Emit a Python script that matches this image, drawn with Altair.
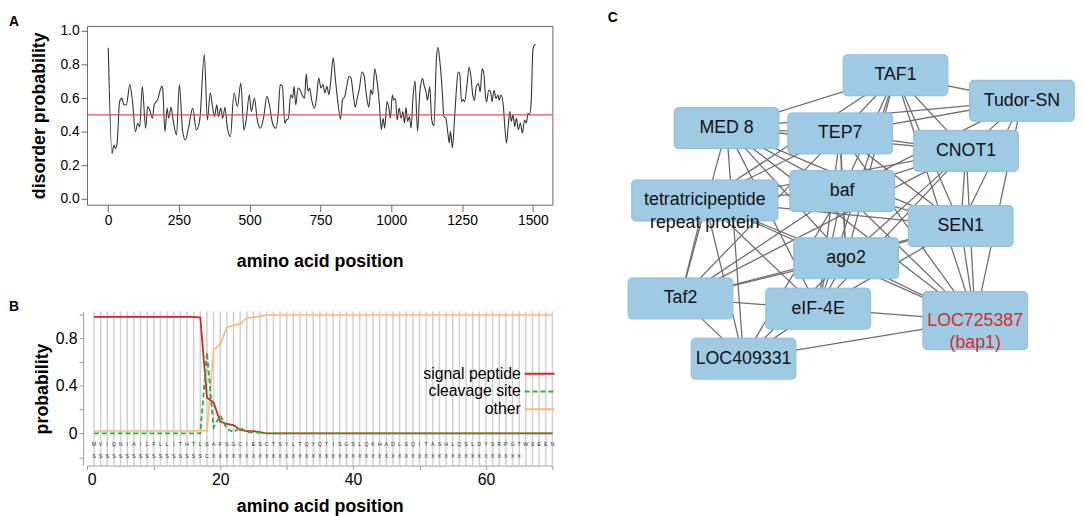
import altair as alt
import pandas as pd

FONT = "Liberation Sans"

# ---------------- Panel A data: disorder probability ----------------
disorder_pos = [1, 14, 21, 26, 32, 41, 49, 56, 65, 77, 87, 97, 105, 112, 121, 133, 140, 147, 157, 163,
                175, 190, 193, 201, 209, 214, 223, 230, 242, 252, 263, 273, 285, 299, 312, 324, 340, 351,
                361, 370, 376, 384, 390, 398, 405, 413, 421, 432, 445, 457, 469, 480, 488, 499, 506, 517,
                527, 538, 550, 561, 571, 581, 593, 601, 608, 616, 624, 630, 637, 645, 652, 657, 663, 671,
                678, 685, 694, 700, 706, 712, 719, 729, 736, 744, 752, 759, 766, 773, 780, 787, 795, 803,
                812, 821, 828, 836, 843, 851, 858, 866, 873, 880, 887, 897, 904, 913, 921, 928, 934, 942,
                951, 958, 965, 971, 977, 985, 991, 997, 1004, 1009, 1015, 1021, 1028, 1035, 1041, 1047,
                1052, 1058, 1064, 1070, 1077, 1084, 1093, 1101, 1111, 1116, 1123, 1128, 1136, 1143, 1151,
                1159, 1165, 1172, 1180, 1186, 1193, 1200, 1205, 1209, 1216, 1223, 1230, 1236, 1242, 1248,
                1254, 1259, 1268, 1275, 1281, 1288, 1294, 1300, 1308, 1314, 1321, 1327, 1333, 1337, 1344,
                1351, 1356, 1363, 1370, 1377, 1381, 1388, 1395, 1401, 1407, 1413, 1419, 1424, 1430, 1436,
                1442, 1449, 1456, 1463, 1471, 1477, 1483, 1488, 1494, 1500, 1504, 1510]
disorder_val = [0.90, 0.27, 0.32, 0.30, 0.33, 0.58, 0.60, 0.56, 0.56, 0.68, 0.57, 0.40, 0.45, 0.43, 0.67,
                0.42, 0.55, 0.53, 0.48, 0.56, 0.59, 0.67, 0.66, 0.40, 0.54, 0.48, 0.545, 0.47, 0.38, 0.68,
                0.41, 0.35, 0.43, 0.54, 0.41, 0.47, 0.86, 0.47, 0.63, 0.54, 0.49, 0.56, 0.49, 0.54, 0.48,
                0.545, 0.43, 0.37, 0.63, 0.55, 0.69, 0.41, 0.47, 0.62, 0.52, 0.60, 0.47, 0.42, 0.49, 0.61,
                0.55, 0.45, 0.42, 0.51, 0.68, 0.67, 0.45, 0.47, 0.48, 0.62, 0.60, 0.67, 0.56, 0.66, 0.65,
                0.62, 0.60, 0.745, 0.64, 0.66, 0.59, 0.54, 0.60, 0.72, 0.66, 0.68, 0.63, 0.67, 0.62, 0.71,
                0.84, 0.71, 0.57, 0.475, 0.59, 0.61, 0.67, 0.73, 0.72, 0.62, 0.545, 0.60, 0.65, 0.755,
                0.735, 0.61, 0.545, 0.65, 0.62, 0.774, 0.686, 0.569, 0.412, 0.48, 0.422, 0.578, 0.549,
                0.48, 0.618, 0.588, 0.598, 0.47, 0.54, 0.48, 0.52, 0.451, 0.545, 0.461, 0.49, 0.422,
                0.608, 0.702, 0.402, 0.637, 0.716, 0.676, 0.637, 0.588, 0.667, 0.47, 0.435, 0.814, 0.902,
                0.814, 0.647, 0.49, 0.48, 0.392, 0.333, 0.402, 0.304, 0.461, 0.647, 0.755, 0.745, 0.578,
                0.592, 0.578, 0.686, 0.784, 0.735, 0.618, 0.588, 0.667, 0.686, 0.637, 0.774, 0.745, 0.608,
                0.578, 0.647, 0.637, 0.578, 0.647, 0.598, 0.618, 0.588, 0.618, 0.569, 0.431, 0.333, 0.431,
                0.52, 0.461, 0.50, 0.431, 0.48, 0.412, 0.451, 0.392, 0.47, 0.451, 0.51, 0.50, 0.569,
                0.882, 0.912, 0.92]
disorder_threshold = [0.5]
a_x_ticks = [0, 250, 500, 750, 1000, 1250, 1500]
a_y_ticks = [0.0, 0.2, 0.4, 0.6, 0.8, 1.0]

# ---------------- Panel B data: signal peptide prediction ----------------
b_positions = list(range(1, 71))
signal_peptide = [0.98] * 15 + [0.978, 0.975, 0.30, 0.26, 0.10, 0.08, 0.07, 0.03, 0.02, 0.02, 0.01] + [0.0] * 44
cleavage_site = [0.0] * 17 + [0.68, 0.05, 0.15, 0.04, 0.01, 0.05, 0.01, 0.01, 0.005] + [0.0] * 44
other = [0.02] * 16 + [0.025, 0.02, 0.70, 0.75, 0.89, 0.91, 0.92, 0.97, 0.975, 0.985] + [0.995] * 44
series_names = ["signal peptide", "cleavage site", "other"]
sequence = "MVIQNIAILFLLITHTLSAFSGCIESCTSYLTQYQTISGSLQKHADLSQITASHLQSLDYSRPGTWSEEN"
prediction = "SSSSSSSSSSSSSSSSSC" + "X" * 47
track_levels = [-0.09, -0.19]
b_x_ticks = [0, 10, 20, 30, 40, 50, 60, 70]
b_y_ticks = [-0.2, 0.0, 0.2, 0.4, 0.6, 0.8, 1.0]

# ---------------- Panel C data: interaction network ----------------
node_ids = ["TAF1", "Tudor-SN", "MED8", "TEP7", "CNOT1", "TPR", "baf", "SEN1", "ago2",
            "Taf2", "eIF-4E", "LOC725387", "LOC409331"]
node_labels = ["TAF1", "Tudor-SN", "MED 8", "TEP7", "CNOT1", "tetratricipeptide\nrepeat protein",
               "baf", "SEN1", "ago2", "Taf2", "eIF-4E", "LOC725387\n(bap1)", "LOC409331"]
node_x = [291.3, 419.3, 120.3, 235.3, 362.7, 98.3, 237.3, 357.3, 241.3, 73.7, 213.0, 372.0, 137.5]
node_y = [50.0, 75.8, 103.5, 108.8, 126.5, 176.7, 167.2, 202.5, 235.2, 275.8, 286.2, 298.3, 336.8]
highlight = ["LOC725387"]
edges = [
    ("TAF1", "Tudor-SN"), ("TAF1", "MED8"), ("TAF1", "TEP7"), ("TAF1", "CNOT1"), ("TAF1", "baf"),
    ("TAF1", "SEN1"), ("TAF1", "ago2"), ("TAF1", "LOC725387"), ("TAF1", "TPR"), ("TAF1", "eIF-4E"),
    ("Tudor-SN", "MED8"), ("Tudor-SN", "TEP7"), ("Tudor-SN", "CNOT1"), ("Tudor-SN", "SEN1"),
    ("Tudor-SN", "LOC725387"), ("Tudor-SN", "baf"),
    ("MED8", "TEP7"), ("MED8", "CNOT1"), ("MED8", "baf"), ("MED8", "SEN1"), ("MED8", "ago2"),
    ("MED8", "Taf2"), ("MED8", "eIF-4E"), ("MED8", "LOC409331"), ("MED8", "LOC725387"),
    ("TEP7", "CNOT1"), ("TEP7", "baf"), ("TEP7", "TPR"), ("TEP7", "SEN1"), ("TEP7", "ago2"),
    ("TEP7", "eIF-4E"), ("TEP7", "LOC725387"), ("TEP7", "Taf2"),
    ("CNOT1", "baf"), ("CNOT1", "SEN1"), ("CNOT1", "ago2"), ("CNOT1", "LOC725387"), ("CNOT1", "Taf2"),
    ("CNOT1", "eIF-4E"), ("CNOT1", "TPR"),
    ("TPR", "baf"), ("TPR", "SEN1"), ("TPR", "ago2"), ("TPR", "Taf2"), ("TPR", "eIF-4E"),
    ("TPR", "LOC409331"), ("TPR", "LOC725387"),
    ("baf", "SEN1"), ("baf", "ago2"), ("baf", "Taf2"), ("baf", "eIF-4E"), ("baf", "LOC725387"),
    ("baf", "LOC409331"),
    ("SEN1", "ago2"), ("SEN1", "LOC725387"), ("SEN1", "eIF-4E"), ("SEN1", "Taf2"),
    ("ago2", "Taf2"), ("ago2", "eIF-4E"), ("ago2", "LOC725387"), ("ago2", "LOC409331"),
    ("Taf2", "eIF-4E"), ("Taf2", "LOC409331"),
    ("eIF-4E", "LOC725387"), ("eIF-4E", "LOC409331"),
    ("LOC409331", "LOC725387"),
]

# ================= Panel A =================
dfA = pd.DataFrame({"aa": disorder_pos, "disorder": disorder_val})
dfThr = pd.DataFrame({"disorder": disorder_threshold})

scaleAy = alt.Scale(domain=[-0.035, 1.03], nice=False, zero=False)
axisAy = alt.Axis(values=a_y_ticks, format=".1f", title="disorder probability", domain=False,
                  grid=False, tickSize=6, tickColor="#666", labelFontSize=14, labelPadding=2,
                  labelOverlap=False, labelColor="black", titleFontSize=18,
                  titleFontWeight="bold", titleColor="black", titlePadding=12)
xA = alt.X("aa:Q", scale=alt.Scale(domain=[-74, 1569], nice=False, zero=False),
           axis=alt.Axis(values=a_x_ticks, format="d", title="amino acid position", domain=False,
                         grid=False, tickSize=7, tickColor="#666", labelFontSize=14, labelPadding=2,
                         labelOverlap=False, labelColor="black", titleFontSize=18,
                         titleFontWeight="bold", titleColor="black", titlePadding=26))

lineA = alt.Chart(dfA).mark_line(color="#333333", strokeWidth=1.1, interpolate="monotone").encode(
    x=xA, y=alt.Y("disorder:Q", scale=scaleAy, axis=axisAy))
ruleA = alt.Chart(dfThr).mark_rule(color="#e05050", strokeWidth=1.3).encode(
    y=alt.Y("disorder:Q", scale=scaleAy, axis=axisAy))

panelA = alt.layer(lineA, ruleA).properties(
    width=471, height=181,
    title=alt.TitleParams("A", anchor="start", frame="group", dx=-79, offset={"expr": "-16"},
                          fontSize=14, fontWeight="bold", baseline="alphabetic"),
    view=alt.ViewBackground(stroke="#666666", strokeWidth=1),
)

# ================= Panel B =================
rowsB = []
for name, vals in zip(series_names, [signal_peptide, cleavage_site, other]):
    for p, v in zip(b_positions, vals):
        rowsB.append({"pos": p, "prob": v, "series": name})
dfB = pd.DataFrame(rowsB)
dfGrid = pd.DataFrame({"pos": b_positions})
seq_rows = []
for i, ch in enumerate(sequence):
    seq_rows.append({"pos": i + 1, "prob": track_levels[0], "letter": ch})
for i, ch in enumerate(prediction):
    seq_rows.append({"pos": i + 1, "prob": track_levels[1], "letter": ch})
dfSeq = pd.DataFrame(seq_rows)

xB = alt.X("pos:Q", scale=alt.Scale(domain=[-0.05, 70], nice=False, zero=False),
           axis=alt.Axis(values=b_x_ticks, labelExpr="datum.value % 20 == 0 ? datum.label : ''",
                         title="amino acid position", grid=False, tickSize=4, tickColor="#999",
                         domainColor="#999", labelFontSize=16, labelPadding=2, labelColor="black",
                         labelOverlap=False, titleFontSize=18, titleFontWeight="bold",
                         titleColor="black", titlePadding=11))
yB = alt.Y("prob:Q", scale=alt.Scale(domain=[-0.27, 1.025], nice=False, zero=False),
           axis=alt.Axis(values=b_y_ticks, format="~g",
                         labelExpr="(datum.value == 0 || datum.value == 0.4 || datum.value == 0.8) ? datum.label : ''",
                         title="probability", grid=False, offset=4, tickSize=4, tickColor="#999",
                         domainColor="#999", labelFontSize=16, labelPadding=2, labelColor="black",
                         labelOverlap=False, titleFontSize=18, titleFontWeight="bold",
                         titleColor="black", titlePadding=4))

legB = alt.Legend(title=None, orient="none", legendX=449, legendY=343, symbolType="M-1.9,0H1.9",
                  symbolSize=250, symbolStrokeWidth=2, labelAlign="right",
                  labelOffset={"expr": "-28"}, labelFontSize=16, labelColor="black",
                  rowPadding=1, padding=0, labelLimit=300)
colorB = alt.Color("series:N", scale=alt.Scale(domain=series_names,
                                               range=["#c8282c", "#3daa3d", "#f5b979"]), legend=legB)
dashB = alt.StrokeDash("series:N", scale=alt.Scale(domain=series_names,
                                                    range=[[1, 0], [5, 3], [1, 0]]), legend=legB)

gridB = alt.Chart(dfGrid).mark_rule(color="#d0d0d0", strokeWidth=1.5).encode(x=xB)
lines_B = [
    alt.Chart(dfB).transform_filter(alt.datum.series == s).mark_line(strokeWidth=w).encode(
        x=xB, y=yB, color=colorB, strokeDash=dashB)
    for s, w in [("other", 1.6), ("signal peptide", 1.8), ("cleavage site", 1.9)]
]
seqB = alt.Chart(dfSeq).mark_text(fontSize=5.5, color="#333333").encode(x=xB, y=yB, text="letter:N")

panelB = alt.layer(gridB, seqB, *lines_B).properties(
    width=471, height=156,
    title=alt.TitleParams("B", anchor="start", frame="group", dx=-79, offset={"expr": "-19"},
                          fontSize=14, fontWeight="bold", baseline="alphabetic"),
)

# ================= Panel C =================
box_w = {"TPR": 148.0}
box_h = {"LOC725387": 58.7}
nodes = []
for nid, lab, cx, cy in zip(node_ids, node_labels, node_x, node_y):
    w = box_w.get(nid, 106.0)
    h = box_h.get(nid, 41.5)
    nodes.append({"id": nid, "label": lab, "cx": cx, "cy": cy,
                  "x0": cx - w / 2, "x1": cx + w / 2, "y0": cy - h / 2, "y1": cy + h / 2,
                  "tcolor": "#d42a2a" if nid in highlight else "#111111"})
dfN = pd.DataFrame(nodes)
pos_lookup = {n["id"]: (n["cx"], n["cy"]) for n in nodes}
dfE = pd.DataFrame([{"cx": pos_lookup[a][0], "cy": pos_lookup[a][1],
                     "cx2": pos_lookup[b][0], "cy2": pos_lookup[b][1]} for a, b in edges])

sxC = alt.Scale(domain=[0, 474], nice=False, zero=False)
syC = alt.Scale(domain=[0, 362], nice=False, zero=False, reverse=True)

edgeC = alt.Chart(dfE).mark_rule(color="#6e6e6e", strokeWidth=1.3).encode(
    x=alt.X("cx:Q", scale=sxC, axis=None), y=alt.Y("cy:Q", scale=syC, axis=None),
    x2="cx2:Q", y2="cy2:Q")
boxC = alt.Chart(dfN).mark_rect(cornerRadius=4, fill="#9fcae3", stroke="#8bbbd8", strokeWidth=1).encode(
    x=alt.X("x0:Q", scale=sxC, axis=None), x2="x1:Q",
    y=alt.Y("y0:Q", scale=syC, axis=None), y2="y1:Q")
textC = alt.Chart(dfN).mark_text(fontSize=18, lineBreak="\n", lineHeight=23, baseline="middle").encode(
    x=alt.X("cx:Q", scale=sxC, axis=None), y=alt.Y("cy:Q", scale=syC, axis=None),
    text="label:N", color=alt.Color("tcolor:N", scale=None))

panelC = alt.layer(edgeC, boxC, textC).properties(
    width=474, height=362,
    title=alt.TitleParams("C", anchor="start", frame="group", dx=0, offset={"expr": "-10"},
                          fontSize=14, fontWeight="bold", baseline="alphabetic"),
)

chart = alt.hconcat(
    alt.vconcat(panelA, panelB, spacing=108, bounds="flush"),
    panelC, spacing=52,
).properties(padding=0).configure(font=FONT).configure_view(stroke=None).configure_axis(labelOverlap=False)

chart.save("out.html", embed_options={"renderer": "svg", "actions": False})
